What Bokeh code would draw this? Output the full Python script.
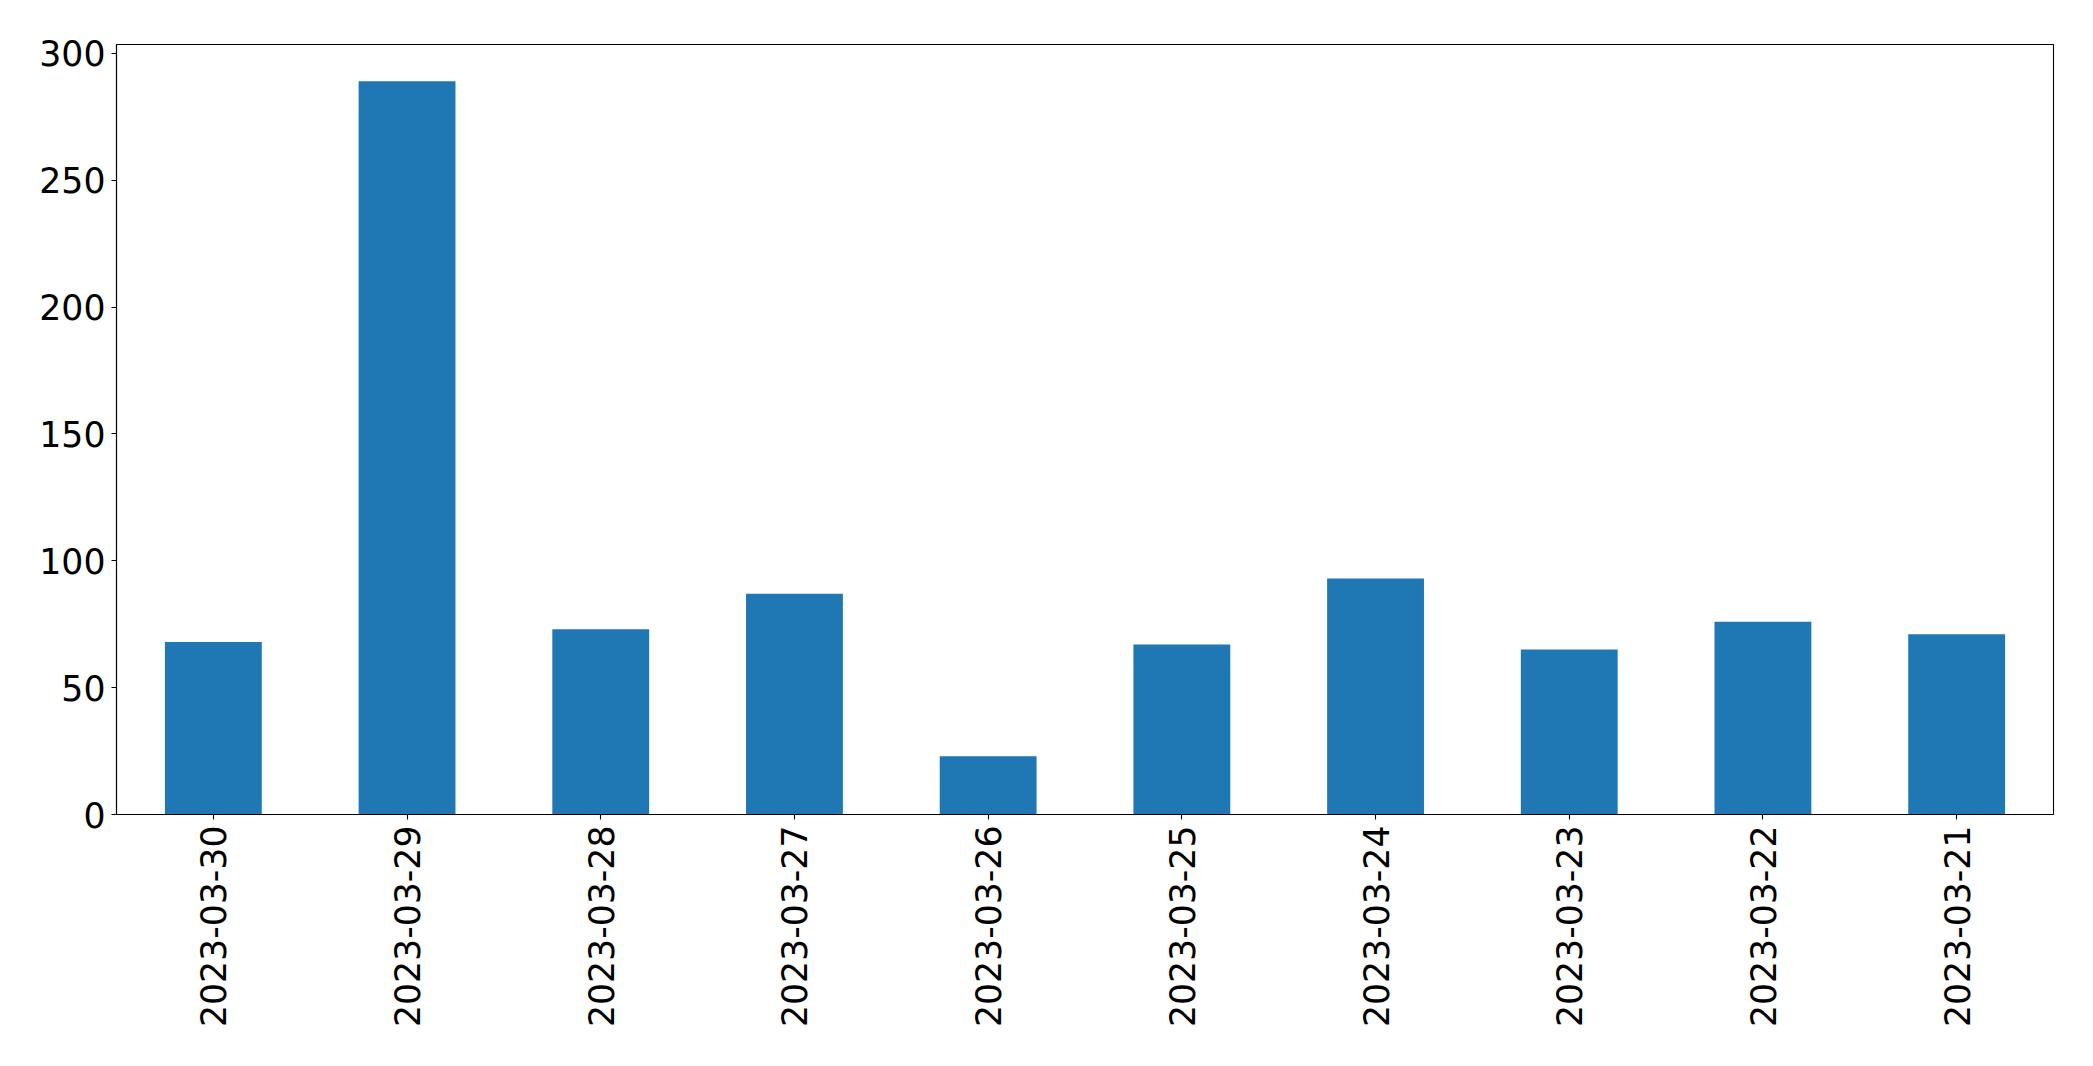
import math
from bokeh.plotting import figure
from bokeh.models import FixedTicker, Range1d, FactorRange
from bokeh.embed import file_html
from bokeh.resources import INLINE

dates = ["2023-03-30", "2023-03-29", "2023-03-28", "2023-03-27", "2023-03-26",
         "2023-03-25", "2023-03-24", "2023-03-23", "2023-03-22", "2023-03-21"]
counts = [68, 289, 73, 87, 23, 67, 93, 65, 76, 71]
y_ticks = [0, 50, 100, 150, 200, 250, 300]

p = figure(width=2093, height=1066, output_backend="svg", toolbar_location=None,
           x_range=FactorRange(factors=dates, range_padding=0),
           y_range=Range1d(0, max(counts) * 1.05),
           min_border_left=116, min_border_right=40, min_border_top=44,
           min_border_bottom=252)

p.vbar(x=dates, top=counts, width=0.5, fill_color="#1f77b4", line_color=None)

p.xgrid.visible = False
p.ygrid.visible = False
p.outline_line_color = "black"
p.outline_line_width = 1.1
p.outline_line_alpha = 1
p.background_fill_color = "white"
p.border_fill_color = "white"

for ax in (p.xaxis[0], p.yaxis[0]):
    ax.axis_line_color = "black"
    ax.axis_line_width = 1.1
    ax.major_tick_line_color = "black"
    ax.major_tick_line_width = 1.1
    ax.major_tick_out = 5
    ax.major_tick_in = 0
    ax.minor_tick_out = 0
    ax.minor_tick_in = 0
    ax.major_label_text_font = "DejaVu Sans"
    ax.major_label_text_font_size = "34.7px"
    ax.major_label_text_color = "black"
    ax.major_label_standoff = 6

p.yaxis.ticker = FixedTicker(ticks=y_ticks)
p.xaxis.major_label_orientation = math.pi / 2

open("out.html", "w").write(file_html(p, INLINE))
